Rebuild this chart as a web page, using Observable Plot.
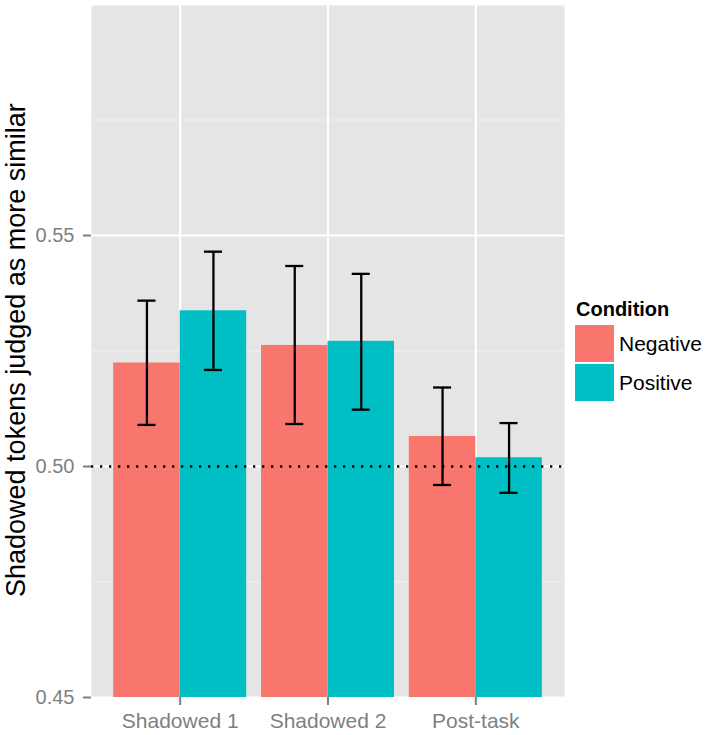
<!DOCTYPE html>
<html>
<head>
<meta charset="utf-8">
<script src="https://cdn.jsdelivr.net/npm/d3@7"></script>
<script src="https://cdn.jsdelivr.net/npm/@observablehq/plot@0.6"></script>
<style>
  html, body { margin: 0; padding: 0; background: white; }
  #wrap { position: relative; width: 709px; height: 735px; font-family: "Liberation Sans", Arial, sans-serif; }
  #chart svg { display: block; }
  .ytitle { position: absolute; text-align: center; white-space: nowrap; color: black; transform: rotate(-90deg); }
  .abs { position: absolute; white-space: nowrap; }
</style>
</head>
<body>
<div id="wrap"><div id="chart"></div></div>
<script>
// ---- data ----
const categories = ["Shadowed 1", "Shadowed 2", "Post-task"];
const conditions = ["Negative", "Positive"];
const conditionColors = ["#F8766D", "#00BFC4"];
const negativeMean = [0.5224, 0.5262, 0.5065];
const negativeLow  = [0.5090, 0.5092, 0.4960];
const negativeHigh = [0.5359, 0.5434, 0.5171];
const positiveMean = [0.5337, 0.5271, 0.5019];
const positiveLow  = [0.5209, 0.5123, 0.4943];
const positiveHigh = [0.5465, 0.5417, 0.5094];
const yTickValues = [0.45, 0.50, 0.55];
const yMajorGrid = [0.45, 0.50, 0.55, 0.60];
const yMinorGrid = [0.475, 0.525, 0.575];
const referenceLine = [0.50];
const yTitle = "Shadowed tokens judged as more similar";
const legendTitle = "Condition";

// ---- build table ----
const dodge = 0.9, capHalf = 0.061;
const yDomain = [0.45, 0.60];
const series = [
  {mean: negativeMean, lo: negativeLow, hi: negativeHigh},
  {mean: positiveMean, lo: positiveLow, hi: positiveHigh}
];
const rows = [];
categories.forEach((cat, i) => {
  conditions.forEach((cond, j) => {
    const x1 = (i + 1) - dodge / 2 + j * dodge / 2;
    rows.push({cat, cond, x1, x2: x1 + dodge / 2, xc: x1 + dodge / 4,
      mean: series[j].mean[i], lo: series[j].lo[i], hi: series[j].hi[i]});
  });
});
const catIndex = categories.map((c, i) => i + 1);

const gray = "#7F7F7F";
const chart = Plot.plot({
  width: 709, height: 735,
  marginLeft: 91, marginRight: 145, marginTop: 4, marginBottom: 38,
  x: {domain: [0.4, 3.6], axis: null},
  y: {domain: yDomain, axis: null},
  color: {domain: conditions, range: conditionColors},
  style: {fontFamily: '"Liberation Sans", Arial, sans-serif', background: "white"},
  marks: [
    Plot.frame({fill: "#E5E5E5"}),
    Plot.ruleY(yMinorGrid, {stroke: "#F2F2F2", strokeWidth: 1.1}),
    Plot.ruleY(yMajorGrid, {stroke: "white", strokeWidth: 2.2}),
    Plot.ruleX(catIndex, {stroke: "white", strokeWidth: 2.2}),
    Plot.rectY(rows, {x1: "x1", x2: "x2", y1: () => yDomain[0], y2: "mean", fill: "cond"}),
    Plot.ruleY(referenceLine, {stroke: "black", strokeWidth: 2.3, strokeDasharray: "2.3,6.7"}),
    Plot.ruleX(rows, {x: "xc", y1: "lo", y2: "hi", stroke: "black", strokeWidth: 2.3}),
    Plot.ruleY(rows, {y: "lo", x1: d => d.xc - capHalf, x2: d => d.xc + capHalf, stroke: "black", strokeWidth: 2.3}),
    Plot.ruleY(rows, {y: "hi", x1: d => d.xc - capHalf, x2: d => d.xc + capHalf, stroke: "black", strokeWidth: 2.3}),
    Plot.axisY(yTickValues, {tickFormat: d3.format(".2f"), tickSize: 8, tickPadding: 9, fontSize: 20, color: gray, strokeWidth: 2, label: null}),
    Plot.axisX(catIndex, {tickFormat: d => categories[d - 1], tickSize: 8, tickPadding: 8, fontSize: 21, color: gray, strokeWidth: 2, label: null})
  ]
});
document.getElementById("chart").appendChild(chart);

// ---- y axis title ----
const wrap = document.getElementById("wrap");
const yt = document.createElement("div");
yt.className = "ytitle";
yt.textContent = yTitle;
Object.assign(yt.style, {fontSize: "27px", width: "600px", height: "30.2px", lineHeight: "30.2px",
  left: (16 - 300) + "px", top: (350.5 - 15.1) + "px"});
wrap.appendChild(yt);

// ---- legend ----
const lt = document.createElement("div");
lt.className = "abs";
lt.textContent = legendTitle;
Object.assign(lt.style, {fontSize: "20px", fontWeight: "bold", lineHeight: "20px", left: "576px", top: "299px"});
wrap.appendChild(lt);
conditions.forEach((c, j) => {
  const sw = document.createElement("div");
  sw.className = "abs";
  Object.assign(sw.style, {left: "575px", top: (325 + j * 39) + "px", width: "39px", height: "37px", background: conditionColors[j]});
  wrap.appendChild(sw);
  const lb = document.createElement("div");
  lb.className = "abs";
  lb.textContent = c;
  Object.assign(lb.style, {fontSize: "21px", lineHeight: "21px", left: "619px", top: (333.2 + j * 39) + "px"});
  wrap.appendChild(lb);
});
</script>
</body>
</html>
